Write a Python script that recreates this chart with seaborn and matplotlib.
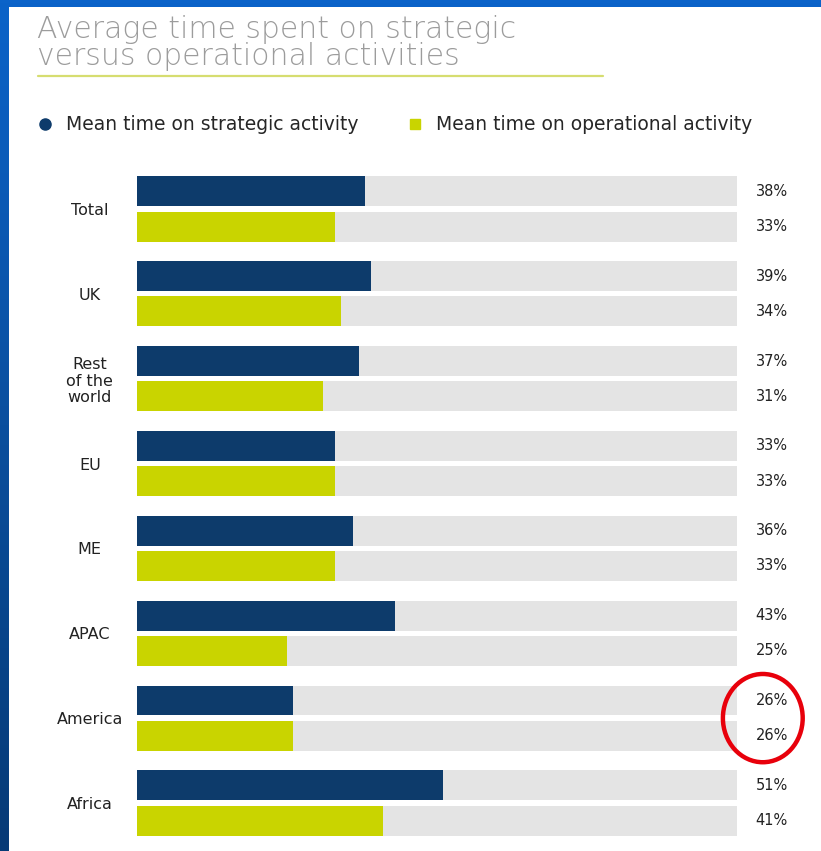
import numpy as np
import pandas as pd
import matplotlib
matplotlib.use("Agg")
import matplotlib.pyplot as plt
from matplotlib.lines import Line2D
from matplotlib.patches import Rectangle, Ellipse
from matplotlib.colors import LinearSegmentedColormap
import seaborn as sns

# Survey results: share of time (%) by region
regions = ["Total", "UK", "Rest\nof the\nworld", "EU", "ME", "APAC", "America", "Africa"]
strategic = [38, 39, 37, 33, 36, 43, 26, 51]
operational = [33, 34, 31, 33, 33, 25, 26, 41]
series_names = ["Mean time on strategic activity", "Mean time on operational activity"]

NAVY = "#0d3b6b"
LIME = "#c9d400"
TRACK = "#e4e4e4"

df = pd.DataFrame({
    "region": regions * 2,
    "series": [series_names[0]] * len(regions) + [series_names[1]] * len(regions),
    "value": strategic + operational,
})
track = df.assign(value=100)

sns.set_theme(style="white")
plt.rcParams["font.family"] = ["DejaVu Sans"]

W, H = 821, 851
fig = plt.figure(figsize=(W / 100, H / 100), dpi=100)

# slide backdrop: blue gradient frame with white panel
bg = fig.add_axes([0, 0, 1, 1], zorder=-10)
grad = np.linspace(0, 1, 256).reshape(-1, 1)
cmap = LinearSegmentedColormap.from_list("slide", ["#0b63c9", "#0a4f9e", "#063a76"])
bg.imshow(grad, aspect="auto", cmap=cmap, extent=[0, 1, 0, 1], origin="upper")
bg.add_patch(Rectangle((9 / W, 0), 1, 1 - 7 / H, transform=bg.transAxes,
                       facecolor="white", edgecolor="none"))
bg.set_xlim(0, 1)
bg.set_ylim(0, 1)
bg.axis("off")

ax_left = 137 / W
ax_w = 600 / W
ax_top = 166.5 / H
ax_bot = 845.4 / H
ax = fig.add_axes([ax_left, 1 - ax_bot, ax_w, ax_bot - ax_top])
ax.set_facecolor("none")

bar_kw = dict(y="region", x="value", hue="series", orient="h", width=0.83, gap=0.15,
              legend=False, ax=ax, saturation=1, linewidth=0, edgecolor="none")
sns.barplot(data=track, palette=[TRACK, TRACK], **bar_kw)
sns.barplot(data=df, palette=[NAVY, LIME], **bar_kw)

ax.set_xlim(0, 100)
ax.set_ylim(len(regions) - 0.5, -0.5)
ax.set_xlabel("")
ax.set_ylabel("")
ax.set_xticks([])
for s in ax.spines.values():
    s.set_visible(False)
ax.tick_params(axis="y", length=0, pad=34)
for lab in ax.get_yticklabels():
    lab.set_ha("center")
    lab.set_fontsize(11.5)
    lab.set_color("#222222")
    lab.set_linespacing(1.15)

# value labels beside the tracks
value_containers = ax.containers[2:]
for cont, vals in zip(value_containers, [strategic, operational]):
    for bar, v in zip(cont, vals):
        yc = bar.get_y() + bar.get_height() / 2
        ax.text(105.8, yc, f"{v}%", ha="center", va="center", fontsize=10.5,
                color="#222222", clip_on=False)

# highlight ring around America
ai = regions.index("America")
ax.add_patch(Ellipse((104.3, ai), 13.3, 1.04, facecolor="none",
                     edgecolor="#e8000b", linewidth=3.2, clip_on=False))

# title with underline
fig.text(37 / W, 1 - 15 / H, "Average time spent on strategic\nversus operational activities",
         ha="left", va="top", fontsize=21.5, fontweight=200, color="#9c9c9c",
         linespacing=0.92)
fig.add_artist(Line2D([38 / W, 603 / W], [1 - 76 / H, 1 - 76 / H],
                      color="#d6dd70", linewidth=1.6))

# legend
handles = [
    Line2D([], [], marker="o", linestyle="none", markersize=8, color=NAVY),
    Line2D([], [], marker="s", linestyle="none", markersize=7, color=LIME),
]
fig.legend(handles, series_names, loc="center left", bbox_to_anchor=(37.5 / W, 1 - 125 / H),
           ncol=2, frameon=False, fontsize=13.5, handletextpad=0.72, columnspacing=2.6,
           handlelength=0.8, borderaxespad=0, borderpad=0)

fig.savefig("out.png", dpi=100)
